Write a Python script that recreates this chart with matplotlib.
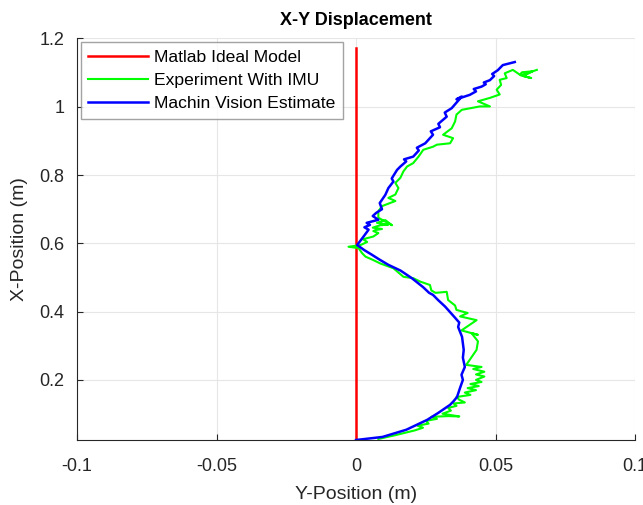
import matplotlib.pyplot as plt
from matplotlib.ticker import FixedLocator

plt.rcParams["font.family"] = ["Liberation Sans", "DejaVu Sans"]

# ideal model: straight line along x-position
ideal_y = [0.0, 0.0]
ideal_x = [0.024, 1.172]

# machine vision estimate (y-position, x-position)
vision_y = [0.0, 0.0095, 0.018, 0.0255, 0.0294, 0.0337, 0.0350, 0.0362, 0.0373,
            0.0383, 0.0378, 0.0390, 0.0383, 0.0386, 0.0380, 0.0366, 0.0370, 0.0355,
            0.0330, 0.0319, 0.0294, 0.0276, 0.0262, 0.0240, 0.0200, 0.0160, 0.0116,
            0.0085, 0.0058, 0.0030, 0.0004, 0.0027, 0.0045, 0.0030, 0.0050, 0.0038,
            0.0080, 0.0060, 0.0072, 0.0093, 0.0085, 0.0105, 0.0116, 0.0134, 0.0128,
            0.0147, 0.0159, 0.0180, 0.0172, 0.0205, 0.0225, 0.0218, 0.0248, 0.0276,
            0.0268, 0.0301, 0.0295, 0.0325, 0.0318, 0.0343, 0.0379, 0.0360, 0.0408,
            0.0430, 0.0422, 0.0450, 0.0465, 0.0458, 0.0480, 0.0495, 0.0488, 0.0508,
            0.0526, 0.0545, 0.0569]
vision_x = [0.024, 0.033, 0.054, 0.083, 0.103, 0.127, 0.138, 0.150, 0.177,
            0.200, 0.215, 0.238, 0.265, 0.288, 0.326, 0.355, 0.368, 0.382,
            0.405, 0.415, 0.434, 0.449, 0.455, 0.472, 0.498, 0.520, 0.537,
            0.552, 0.566, 0.580, 0.595, 0.620, 0.640, 0.647, 0.654, 0.660,
            0.669, 0.680, 0.689, 0.700, 0.718, 0.742, 0.762, 0.781, 0.790,
            0.815, 0.825, 0.840, 0.846, 0.854, 0.872, 0.880, 0.893, 0.918,
            0.928, 0.940, 0.950, 0.971, 0.983, 0.996, 1.030, 1.022, 1.035,
            1.045, 1.052, 1.059, 1.066, 1.071, 1.078, 1.090, 1.096, 1.107,
            1.122, 1.126, 1.131]

# experiment with IMU (y-position, x-position)
imu_y = [0.008, 0.014, 0.018, 0.021, 0.024, 0.022, 0.026, 0.025, 0.029, 0.027,
         0.033, 0.037, 0.031, 0.034, 0.033, 0.036, 0.035, 0.039, 0.037, 0.036,
         0.041, 0.039, 0.043, 0.040, 0.044, 0.041, 0.045, 0.043, 0.046, 0.043,
         0.046, 0.042, 0.045, 0.0395, 0.0432, 0.0437, 0.0414, 0.0437, 0.0378,
         0.0432, 0.0373, 0.040, 0.036, 0.0355, 0.033, 0.0325, 0.0285, 0.0270,
         0.0265, 0.023, 0.0205, 0.017, 0.0134, 0.0087, 0.0062, 0.0034, 0.0022,
         0.0009, -0.0027, 0.0016, 0.004, 0.0025, 0.0062, 0.008, 0.0062, 0.007,
         0.0093, 0.0060, 0.0087, 0.0116, 0.0075, 0.0105, 0.0129, 0.008, 0.008,
         0.0093, 0.0141, 0.0116, 0.0141, 0.0152, 0.0141, 0.0159, 0.017, 0.0183,
         0.0205, 0.0225, 0.0241, 0.0276, 0.029, 0.0337, 0.0348, 0.0312, 0.0343,
         0.0355, 0.036, 0.0379, 0.0444, 0.048, 0.0437, 0.048, 0.0515, 0.0504,
         0.0520, 0.0515, 0.054, 0.0533, 0.0562, 0.0587, 0.0595, 0.0633, 0.0600,
         0.0628, 0.0590, 0.0648]
imu_x = [0.027, 0.038, 0.046, 0.052, 0.060, 0.066, 0.072, 0.080, 0.086, 0.092,
         0.094, 0.093, 0.101, 0.110, 0.118, 0.124, 0.131, 0.134, 0.142, 0.150,
         0.156, 0.163, 0.170, 0.176, 0.182, 0.188, 0.194, 0.200, 0.210, 0.216,
         0.224, 0.232, 0.238, 0.244, 0.288, 0.313, 0.337, 0.332, 0.345,
         0.375, 0.386, 0.396, 0.405, 0.418, 0.434, 0.458, 0.455, 0.462,
         0.478, 0.488, 0.498, 0.502, 0.527, 0.541, 0.551, 0.561, 0.571,
         0.586, 0.590, 0.595, 0.604, 0.612, 0.620, 0.630, 0.636, 0.639,
         0.642, 0.646, 0.653, 0.655, 0.660, 0.668, 0.653, 0.675, 0.694,
         0.709, 0.724, 0.733, 0.743, 0.762, 0.777, 0.792, 0.811, 0.825,
         0.835, 0.855, 0.874, 0.883, 0.889, 0.893, 0.908, 0.918, 0.937,
         0.957, 0.977, 0.991, 1.001, 1.001, 1.016, 1.026, 1.036, 1.050,
         1.064, 1.079, 1.084, 1.098, 1.108, 1.094, 1.101, 1.104, 1.090,
         1.084, 1.092, 1.108]

fig = plt.figure(figsize=(6.43, 5.05), dpi=100)
ax = fig.add_axes([0.1198, 0.1287, 0.8678, 0.7951])

ax.plot(ideal_y, ideal_x, color="#ff0000", lw=1.8, label="Matlab Ideal Model")
ax.plot(imu_y, imu_x, color="#00ff00", lw=1.5, label="Experiment With IMU")
ax.plot(vision_y, vision_x, color="#0000ff", lw=1.8, label="Machin Vision Estimate")

ax.set_xlim(-0.1, 0.1)
ax.set_ylim(0.024, 1.2)
ax.xaxis.set_major_locator(FixedLocator([-0.1, -0.05, 0, 0.05, 0.1]))
ax.set_xticklabels(["-0.1", "-0.05", "0", "0.05", "0.1"])
ax.yaxis.set_major_locator(FixedLocator([0.2, 0.4, 0.6, 0.8, 1.0, 1.2]))
ax.set_yticklabels(["0.2", "0.4", "0.6", "0.8", "1", "1.2"])

ax.grid(True, color="#e6e6e6", lw=0.8)
ax.set_axisbelow(True)
for side in ["top", "right"]:
    ax.spines[side].set_visible(False)
for side in ["left", "bottom"]:
    ax.spines[side].set_color("#262626")
    ax.spines[side].set_linewidth(0.8)
ax.tick_params(direction="in", length=4, width=0.8, colors="#262626",
               labelsize=13)
ax.tick_params(axis="x", pad=13)
ax.tick_params(axis="y", pad=9)

ax.set_xlabel("Y-Position (m)", fontsize=14, color="#262626", labelpad=8)
ax.set_ylabel("X-Position (m)", fontsize=14, color="#262626", labelpad=8)
ax.set_title("X-Y Displacement", fontsize=13, fontweight="bold", pad=10)

leg = ax.legend(loc="upper left", fontsize=12.6, handlelength=3.4,
                frameon=True, fancybox=False, borderaxespad=0.2,
                labelspacing=0.45, handletextpad=0.35, borderpad=0.45)
leg.get_frame().set_edgecolor("#8c8c8c")
leg.get_frame().set_linewidth(1.0)

plt.savefig("out.png", dpi=100)
